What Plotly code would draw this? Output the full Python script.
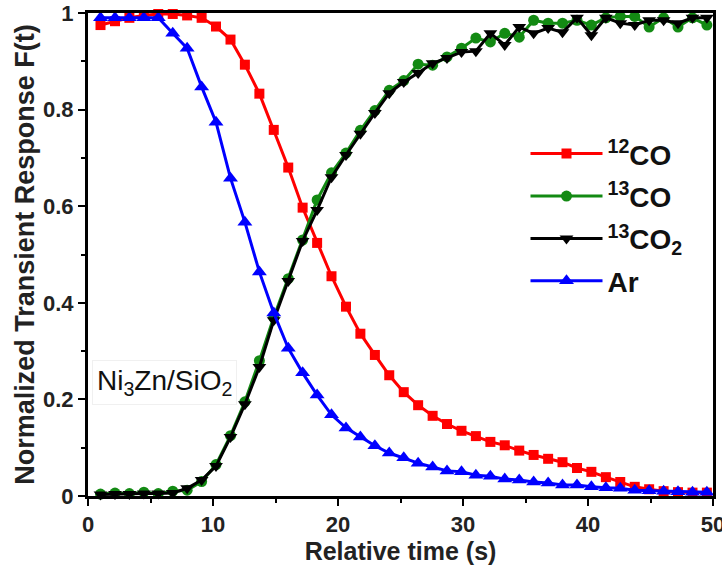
import plotly.graph_objects as go

time_s = [1.0, 2.16, 3.31, 4.47, 5.62, 6.78, 7.93, 9.09, 10.24, 11.40, 12.55, 13.71, 14.86,
          16.02, 17.17, 18.33, 19.48, 20.64, 21.79, 22.95, 24.10, 25.26, 26.41, 27.57, 28.72,
          29.88, 31.03, 32.19, 33.34, 34.50, 35.65, 36.81, 37.96, 39.12, 40.27, 41.43, 42.58,
          43.74, 44.89, 46.05, 47.20, 48.36, 49.51]

co12 = [0.975, 0.983, 0.990, 0.995, 0.998, 0.998, 0.995, 0.990, 0.972, 0.945, 0.893, 0.833, 0.758,
        0.680, 0.597, 0.524, 0.455, 0.392, 0.336, 0.292, 0.250, 0.215, 0.188, 0.166, 0.149,
        0.135, 0.124, 0.112, 0.105, 0.094, 0.085, 0.077, 0.070, 0.058, 0.050, 0.039, 0.029,
        0.019, 0.014, 0.010, 0.008, 0.007, 0.007]

co13 = [0.004, 0.006, 0.005, 0.008, 0.005, 0.010, 0.012, 0.030, 0.065, 0.125, 0.195, 0.280, 0.370,
        0.450, 0.530, 0.613, 0.669, 0.710, 0.757, 0.798, 0.840, 0.860, 0.894, 0.892, 0.909,
        0.927, 0.948, 0.940, 0.958, 0.950, 0.985, 0.979, 0.979, 0.985, 0.975, 0.990, 0.993,
        0.993, 0.971, 0.990, 0.971, 0.990, 0.975]

co2_13 = [0.003, 0.004, 0.004, 0.005, 0.005, 0.006, 0.016, 0.033, 0.062, 0.122, 0.190, 0.267, 0.364,
          0.445, 0.528, 0.592, 0.660, 0.706, 0.750, 0.793, 0.834, 0.857, 0.876, 0.896, 0.907,
          0.919, 0.921, 0.958, 0.934, 0.971, 0.958, 0.969, 0.960, 0.990, 0.954, 0.990, 0.979,
          0.975, 0.985, 0.985, 0.979, 0.990, 0.990]

ar = [0.990, 0.990, 0.990, 0.990, 0.990, 0.958, 0.927, 0.847, 0.774, 0.658, 0.567, 0.464, 0.379,
      0.306, 0.255, 0.209, 0.168, 0.141, 0.122, 0.104, 0.089, 0.079, 0.068, 0.060, 0.052,
      0.050, 0.043, 0.041, 0.035, 0.033, 0.029, 0.027, 0.023, 0.023, 0.019, 0.017, 0.016,
      0.012, 0.011, 0.010, 0.009, 0.008, 0.008]

series = [
    ("<sup>12</sup>CO", co12, "#ff0000", "square", 10),
    ("<sup>13</sup>CO", co13, "#138a13", "circle", 11),
    ("<sup>13</sup>CO<sub>2</sub>", co2_13, "#000000", "triangle-down", 12),
    ("Ar", ar, "#0000ff", "triangle-up", 13),
]

FONT = "Liberation Sans, Arial, sans-serif"

fig = go.Figure()
for i, (name, vals, color, sym, size) in enumerate(series):
    fig.add_trace(go.Scatter(
        x=time_s, y=vals, name=name, mode="lines+markers",
        line=dict(color=color, width=3),
        marker=dict(color=color, symbol=sym, size=size, line=dict(width=0)),
        legendgroup=f"g{i}", cliponaxis=False,
    ))

axis_common = dict(
    showline=True, linecolor="black", linewidth=3, mirror=True,
    ticks="outside", ticklen=7, tickwidth=2, tickcolor="black",
    showgrid=False, zeroline=False, automargin=False,
    ticklabeloverflow="allow",
    tickfont=dict(family=FONT, size=22, color="#222", weight="bold"),
)

fig.update_xaxes(
    range=[0, 50], dtick=10, tick0=0,
    minor=dict(dtick=5, ticks="outside", ticklen=4, tickwidth=2, tickcolor="black"),
    title=dict(text="Relative time (s)", font=dict(family=FONT, size=25, color="#222", weight="bold"), standoff=2),
    **axis_common,
)
fig.update_yaxes(
    range=[0, 1], dtick=0.2, tick0=0,
    minor=dict(dtick=0.1, ticks="outside", ticklen=4, tickwidth=2, tickcolor="black"),
    title=dict(text="Normalized Transient Response F(t)", font=dict(family=FONT, size=27, color="#222", weight="bold"), standoff=1),
    **axis_common,
)

fig.add_annotation(
    x=0.006, y=0.235, xref="paper", yref="paper", xanchor="left", yanchor="middle",
    text="Ni<sub>3</sub>Zn/SiO<sub>2</sub>", showarrow=False,
    font=dict(family=FONT, size=28, color="#111"),
    bordercolor="#f0f0f0", borderwidth=1, borderpad=4, bgcolor="rgba(255,255,255,0.9)",
)

fig.update_layout(
    width=722, height=567,
    margin=dict(l=88, r=9, t=13, b=71),
    paper_bgcolor="white", plot_bgcolor="white",
    showlegend=True,
    legend=dict(
        x=0.70, y=0.76, xanchor="left", yanchor="top",
        font=dict(family=FONT, size=28, color="#111", weight="bold"),
        bgcolor="rgba(0,0,0,0)", itemwidth=72, tracegroupgap=3,
        traceorder="grouped",
    ),
)

fig.write_html("out.html")
